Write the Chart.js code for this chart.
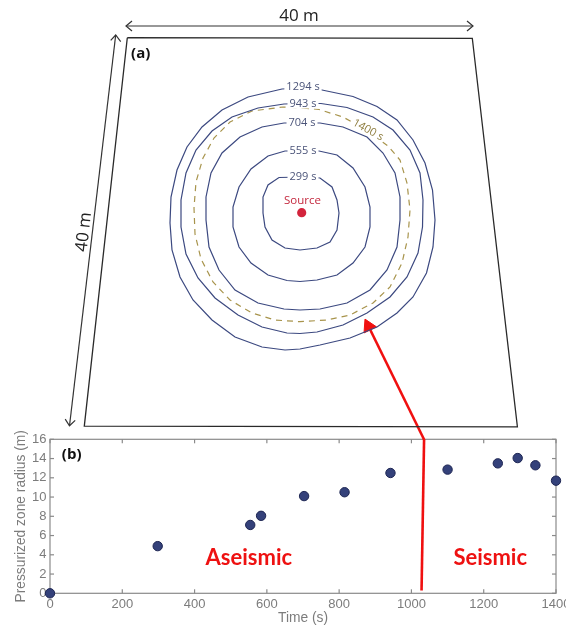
<!DOCTYPE html>
<html>
<head>
<meta charset="utf-8">
<script src="https://cdn.jsdelivr.net/npm/chart.js@4.4.1/dist/chart.umd.min.js"></script>
<style>
    html, body { margin: 0; padding: 0; background: #fff; }
    #wrap { position: relative; width: 566px; height: 629px; overflow: hidden; }
    #wrap canvas { position: absolute; left: 0; top: 0; }
</style>
</head>
<body>
<div id="wrap">
    <canvas id="radiusChart" width="566" height="629"></canvas>
    <canvas id="mapChart" width="566" height="629"></canvas>
</div>
<script>
// ---- panel (b): pressurized zone radius vs time ----
const times = [0, 298, 554, 584, 703, 815, 942, 1100, 1239, 1294, 1343, 1400];
const radii = [0, 4.9, 7.1, 8.05, 10.1, 10.5, 12.5, 12.85, 13.5, 14.05, 13.3, 11.7];
const boundaryTime = [1028, 1035];
const boundaryRadius = [0.3, 16];
const phaseLabels = ['Aseismic', 'Seismic'];
const phaseTime = [550, 1218];
const phaseRadius = [3.63, 3.63];

// ---- panel (a): map sketch, in figure units (x right, y down) ----
const frame = [[127.3, 37.7], [472.3, 38.3], [517.4, 426.8], [84.3, 426.1], [127.3, 37.7]];
const ring1294 = [[303,88],[322,90],[353,96.5],[377,106.5],[397,120],[413,140],[425,163],[432.5,190],[435,220],[433,247],[426.5,273],[413,297],[397,313],[377,327],[350,338],[320,345],[300,349],[285,350],[262,347],[235,337],[212,320],[193,300],[180,277],[172,250],[170,223],[171,197],[177,170],[187,147],[202,127],[222,110],[248,97],[282,89],[303,88]];
const ring943 = [[303,103.5],[321,103.5],[347,107.5],[373,117],[393,130],[410,150],[420,173],[423,200],[422.5,227],[418,253],[407,277],[390,297],[367,313],[343,325],[317,332],[300,333.5],[287,333],[262,327],[238,315],[215,298],[198,278],[186,254],[181,227],[181,200],[186,173],[196,150],[212,131],[232,117],[258,108],[284,104],[303,103.5]];
const ring704 = [[303,123],[320,123],[343,127],[367,137],[383,153],[395,173],[400,197],[400,220],[397,247],[387,270],[370,290],[347,303],[320,309],[300,310],[284,309],[258,303],[235,290],[219,270],[209,247],[206,220],[206,197],[211,173],[222,153],[240,137],[262,127],[284,123],[303,123]];
const ring555 = [[303,151],[319,151],[337,155],[353,168],[365,187],[370,207],[370,227],[365,247],[353,263],[337,275],[317,280],[300,281.5],[287,280.5],[268,275],[251,263],[239,247],[233,227],[233,207],[239,187],[251,169],[268,156],[285,151],[303,151]];
const ring299 = [[303,177],[320,178],[332,187],[337,200],[339,213],[337,230],[330,242],[317,248],[300,250],[285,248],[272,240],[265,227],[263,213],[263,197],[268,185],[279,177.5],[303,177]];
const ring1400 = [[303,108],[319,109.5],[343,117],[366,130],[388,146],[400,160],[407,183],[410,210],[408,237],[402,263],[390,287],[373,303],[350,315],[327,320],[300,321.7],[275,320],[252,313],[230,300],[213,282],[201,259],[195,234],[194,208],[196,182],[203,158],[214,138],[230,122],[252,111],[283,107],[303,108]];
const source = [301.7, 212.7];

const contourLabels = ['1294 s', '943 s', '704 s', '555 s', '299 s'];
const contourLabelX = [303, 303, 302, 303, 303];
const contourLabelY = [87, 103.5, 123, 151, 177];

// dimension arrows (40 m) and the red pointer
const topArrow = [[126, 26], [473, 26]];
const topArrowHeads = [[[132, 21], [126, 26], [132, 31]], [[467, 21], [473, 26], [467, 31]]];
const sideArrow = [[115.7, 35], [69.5, 425.8]];
const sideArrowHeads = [[[120.7, 41.6], [115.7, 35], [110.7, 40.4]], [[75.2, 420.4], [69.5, 425.8], [65.2, 419.2]]];
const pointerPath = [[368.5, 326.3], [424.3, 440]];
const pointerHead = [368.5, 326.3];

const pts = (arr) => arr.map(([x, y]) => ({ x, y }));

// napisy rysowane w jednostkach skal
const notesPlugin = {
    id: 'notes',
    afterDatasetsDraw(chart, args, opts) {
        const { ctx, scales: { x, y } } = chart;
        (opts.items || []).forEach((n) => {
            ctx.save();
            ctx.translate(x.getPixelForValue(n.x), y.getPixelForValue(n.y));
            ctx.rotate(((n.rotate || 0) * Math.PI) / 180);
            ctx.font = n.font;
            ctx.textAlign = 'center';
            ctx.textBaseline = 'middle';
            if (n.mask) {
                const w = ctx.measureText(n.text).width;
                ctx.fillStyle = '#fff';
                ctx.fillRect(-w / 2 - 2, -n.mask / 2, w + 4, n.mask);
            }
            ctx.fillStyle = n.color;
            ctx.fillText(n.text, 0, 0);
            ctx.restore();
        });
    },
};

// frame + inward ticks on all four sides
const frameTicks = {
    id: 'frameTicks',
    beforeDatasetsDraw(chart) {
        const { ctx, chartArea: a, scales: { x, y } } = chart;
        const seg = (x1, y1, x2, y2) => {
            ctx.beginPath();
            ctx.moveTo(x1, y1);
            ctx.lineTo(x2, y2);
            ctx.stroke();
        };
        ctx.save();
        ctx.strokeStyle = '#8a8a8a';
        ctx.lineWidth = 1.2;
        ctx.strokeRect(a.left, a.top, a.right - a.left, a.bottom - a.top);
        x.ticks.forEach((t) => {
            const p = x.getPixelForValue(t.value);
            seg(p, a.bottom, p, a.bottom - 4);
            seg(p, a.top, p, a.top + 4);
        });
        y.ticks.forEach((t) => {
            const p = y.getPixelForValue(t.value);
            seg(a.left, p, a.left + 4, p);
            seg(a.right, p, a.right - 4, p);
        });
        ctx.restore();
    },
};

const tickFont = { family: "'Liberation Sans', Arial, sans-serif", size: 13 };
const titleFont = { family: "'Liberation Sans', Arial, sans-serif", size: 13.8 };
const grey = '#7c7c7c';

new Chart(document.getElementById('radiusChart'), {
    type: 'scatter',
    data: {
        datasets: [
            {
                data: times.map((t, i) => ({ x: t, y: radii[i] })),
                pointRadius: 4.7,
                backgroundColor: '#34417a',
                borderColor: '#1d2552',
                borderWidth: 1,
                clip: false,
            },
            {
                data: boundaryTime.map((t, i) => ({ x: t, y: boundaryRadius[i] })),
                showLine: true,
                pointRadius: 0,
                borderColor: '#f01010',
                borderWidth: 2.6,
                clip: false,
            },
        ],
    },
    options: {
        responsive: false,
        animation: false,
        layout: { autoPadding: false, padding: { top: 439.3, right: 10, left: 0, bottom: 0 } },
        plugins: {
            legend: { display: false },
            tooltip: { enabled: false },
            notes: {
                items: [
                    ...phaseLabels.map((text, i) => ({
                        text, x: phaseTime[i], y: phaseRadius[i],
                        font: "bold 22px Lato, 'Open Sans', sans-serif", color: '#ee1111',
                    })),
                    { text: '(b)', x: 60, y: 14.37, font: "bold 15px 'Open Sans', sans-serif", color: '#111' },
                ],
            },
        },
        scales: {
            x: {
                type: 'linear',
                min: 0,
                max: 1400,
                grid: { display: false, drawTicks: false },
                border: { display: false },
                ticks: { stepSize: 200, color: grey, font: tickFont, padding: 3, maxRotation: 0, callback: (v) => String(v) },
                title: { display: true, text: 'Time (s)', color: grey, font: titleFont, padding: { top: 0, bottom: 3 } },
                afterFit(s) {
                    s.height = 35.7;
                    s.paddingLeft = 0;
                    s.paddingRight = 0;
                },
            },
            y: {
                min: 0,
                max: 16,
                grid: { display: false, drawTicks: false },
                border: { display: false },
                ticks: { stepSize: 2, color: grey, font: tickFont, padding: 3.5, callback: (v) => String(v) },
                title: { display: true, text: 'Pressurized zone radius (m)', color: grey, font: titleFont, padding: { top: 13, bottom: 0 } },
                afterFit(s) {
                    s.width = 50;
                    s.paddingTop = 0;
                    s.paddingBottom = 0;
                },
            },
        },
    },
    plugins: [frameTicks, notesPlugin],
});

const line = (arr, color, width, dash) => ({
    data: pts(arr),
    showLine: true,
    pointRadius: 0,
    borderColor: color,
    borderWidth: width,
    borderDash: dash || [],
    tension: 0,
});

const ringColor = '#3c4980';
const labelFont = "11px 'Open Sans', sans-serif";

new Chart(document.getElementById('mapChart'), {
    type: 'scatter',
    data: {
        datasets: [
            line(frame, '#2a2a2a', 1.3),
            line(ring1294, ringColor, 1.2),
            line(ring943, ringColor, 1.2),
            line(ring1400, '#a8944c', 1.2, [6, 5]),
            line(ring704, ringColor, 1.2),
            line(ring555, ringColor, 1.2),
            line(ring299, ringColor, 1.2),
            line(topArrow, '#333', 1.2),
            ...topArrowHeads.map((h) => line(h, '#333', 1.2)),
            line(sideArrow, '#333', 1.2),
            ...sideArrowHeads.map((h) => line(h, '#333', 1.2)),
            line(pointerPath, '#f01010', 2.6),
            {
                data: [{ x: pointerHead[0], y: pointerHead[1] }],
                pointStyle: 'triangle',
                pointRotation: -26,
                pointRadius: 8,
                backgroundColor: '#f01010',
                borderColor: '#f01010',
                borderWidth: 1,
            },
            {
                data: [{ x: source[0], y: source[1] }],
                pointRadius: 4.6,
                backgroundColor: '#d3243c',
                borderColor: '#d3243c',
                borderWidth: 0,
            },
        ],
    },
    options: {
        responsive: false,
        animation: false,
        layout: { autoPadding: false, padding: 0 },
        plugins: {
            legend: { display: false },
            tooltip: { enabled: false },
            notes: {
                items: [
                    ...contourLabels.map((text, i) => ({
                        text, x: contourLabelX[i], y: contourLabelY[i],
                        font: labelFont, color: '#4b5479', mask: 10,
                    })),
                    { text: '1400 s', x: 368, y: 130, rotate: 29, font: labelFont, color: '#8d7c3d', mask: 10 },
                    { text: 'Source', x: 302.5, y: 201, font: "11.5px 'Open Sans', sans-serif", color: '#c4283e' },
                    { text: '(a)', x: 140.7, y: 53.3, font: "bold 15px 'Open Sans', sans-serif", color: '#111' },
                    { text: '40 m', x: 299, y: 16, font: "17px 'Open Sans', sans-serif", color: '#222' },
                    { text: '40 m', x: 84, y: 232, rotate: -83.3, font: "17px 'Open Sans', sans-serif", color: '#222' },
                ],
            },
        },
        scales: {
            x: { type: 'linear', min: 0, max: 566, display: false },
            y: { type: 'linear', min: 0, max: 629, reverse: true, display: false },
        },
    },
    plugins: [notesPlugin],
});
</script>
</body>
</html>
